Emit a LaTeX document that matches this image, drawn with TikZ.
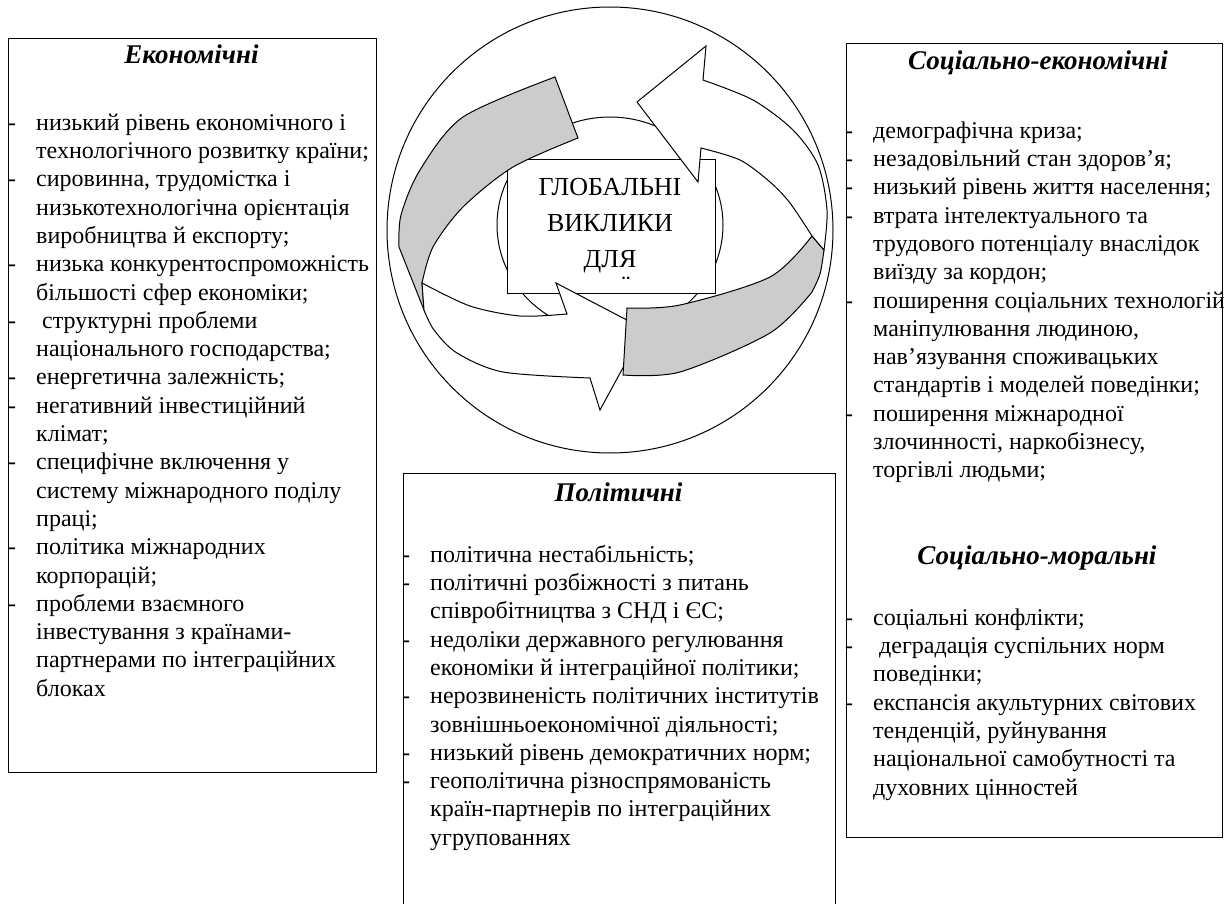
\documentclass[tikz,border=0pt]{standalone}
\usepackage{fontspec}
\setmainfont{Liberation Serif}
\usetikzlibrary{positioning}
\definecolor{bandgrey}{RGB}{204,204,204}
\newcommand\itm{\leavevmode\strut\llap{\makebox[28pt][l]{-}}}
\tikzset{
  panel/.style={draw, line width=1.4pt, anchor=north west, inner sep=0pt},
  heading/.style={font=\fontsize{27}{30}\selectfont\bfseries\itshape, anchor=base, inner sep=0pt},
  points/.style={font=\fontsize{24}{28.3}\selectfont, align=left, anchor=north west, inner sep=0pt},
  band/.style={draw, line width=1pt},
}
\begin{document}
\begin{tikzpicture}[x=1pt, y=-1pt]
  \useasboundingbox (0,0) rectangle (1224,904);
  \clip (0,0) rectangle (1224,904);
  % circle with the two arrows
  \draw[band] (610,230) circle (223);
  \draw[band] (610,225) ellipse (113 and 108);
  \node[draw, fill=white, line width=1pt, minimum width=208pt, minimum height=133pt, inner sep=0pt] (core) at (611,226.5) {};
  \node[points, align=center, anchor=north, font=\fontsize{26}{36}\selectfont] (corelabel) at (610,169.8) {\strut ГЛОБАЛЬНІ\\ВИКЛИКИ\\ДЛЯ};
  \node[inner sep=0pt, anchor=base, font=\fontsize{26}{30}\selectfont] (coredots) at (626,294) {\char"00A8};
  \filldraw[band, fill=bandgrey] (555,77) -- (578,138)
    -- plot[smooth] coordinates {(578,138) (513,167) (463,207) (433,247) (422,283)}
    -- (424,310) -- (399,247)
    -- plot[smooth] coordinates {(399,247) (401,215) (420,170) (463,117) (555,77)} -- cycle;
  \filldraw[band, fill=white] (422,283)
    -- plot[smooth] coordinates {(422,283) (470,306) (520,316) (567,314)}
    -- (556,283) -- (644,329) -- (600,410) -- (590,378)
    -- plot[smooth] coordinates {(590,378) (503,372) (457,353) (434,330) (424,310)} -- cycle;
  \filldraw[band, fill=bandgrey] (627,308)
    -- plot[smooth] coordinates {(627,308) (680,305) (770,277) (812,236)}
    -- plot[smooth] coordinates {(824,250) (820,274) (812,292)}
    -- plot[smooth] coordinates {(812,292) (770,333) (680,372) (623,375)} -- cycle;
  \filldraw[band, fill=white] (812,236)
    -- plot[smooth] coordinates {(812,236) (790,203) (770,182) (740,160) (701,148)}
    -- (698,182) -- (637,102) -- (706,46) -- (703,80)
    -- plot[smooth] coordinates {(703,80) (753,100) (793,130) (818,165) (827,210) (824,250)} -- cycle;
  % economic
  \node[panel, minimum width=368pt, minimum height=734pt] (econ) at (8,38) {};
  \node[heading] (econtitle) at (191.5,64) {Економічні};
  \node[points] (econlist) at (36,110.2) {\itm низький рівень економічного і\\
    технологічного розвитку країни;\\
    \itm сировинна, трудомістка і\\
    низькотехнологічна орієнтація\\
    виробництва й експорту;\\
    \itm низька конкурентоспроможність\\
    більшості сфер економіки;\\
    \itm\ структурні проблеми\\
    національного господарства;\\
    \itm енергетична залежність;\\
    \itm негативний інвестиційний\\
    клімат;\\
    \itm специфічне включення у\\
    систему міжнародного поділу\\
    праці;\\
    \itm політика міжнародних\\
    корпорацій;\\
    \itm проблеми взаємного\\
    інвестування з країнами-\\
    партнерами по інтеграційних\\
    блоках};
  % social
  \node[panel, minimum width=376pt, minimum height=794pt] (soc) at (846,43) {};
  \node[heading] (soctitle) at (1038,70) {Соціально-економічні};
  \node[points] (soclist) at (873,118.2) {\itm демографічна криза;\\
    \itm незадовільний стан здоров’я;\\
    \itm низький рівень життя населення;\\
    \itm втрата інтелектуального та\\
    трудового потенціалу внаслідок\\
    виїзду за кордон;\\
    \itm поширення соціальних технологій\\
    маніпулювання людиною,\\
    нав’язування споживацьких\\
    стандартів і моделей поведінки;\\
    \itm поширення міжнародної\\
    злочинності, наркобізнесу,\\
    торгівлі людьми;};
  \node[heading] (moraltitle) at (1037,564) {Соціально-моральні};
  \node[points] (morallist) at (873,605.2) {\itm соціальні конфлікти;\\
    \itm\ деградація суспільних норм\\
    поведінки;\\
    \itm експансія акультурних світових\\
    тенденцій, руйнування\\
    національної самобутності та\\
    духовних цінностей};
  % political
  \node[panel, minimum width=432pt, minimum height=450pt] (polit) at (403,473) {};
  \node[heading] (polittitle) at (618.5,501) {Політичні};
  \node[points] (politlist) at (430,542.2) {\itm політична нестабільність;\\
    \itm політичні розбіжності з питань\\
    співробітництва з СНД і ЄС;\\
    \itm недоліки державного регулювання\\
    економіки й інтеграційної політики;\\
    \itm нерозвиненість політичних інститутів\\
    зовнішньоекономічної діяльності;\\
    \itm низький рівень демократичних норм;\\
    \itm геополітична різноспрямованість\\
    країн-партнерів по інтеграційних\\
    угрупованнях};
\end{tikzpicture}
\end{document}
